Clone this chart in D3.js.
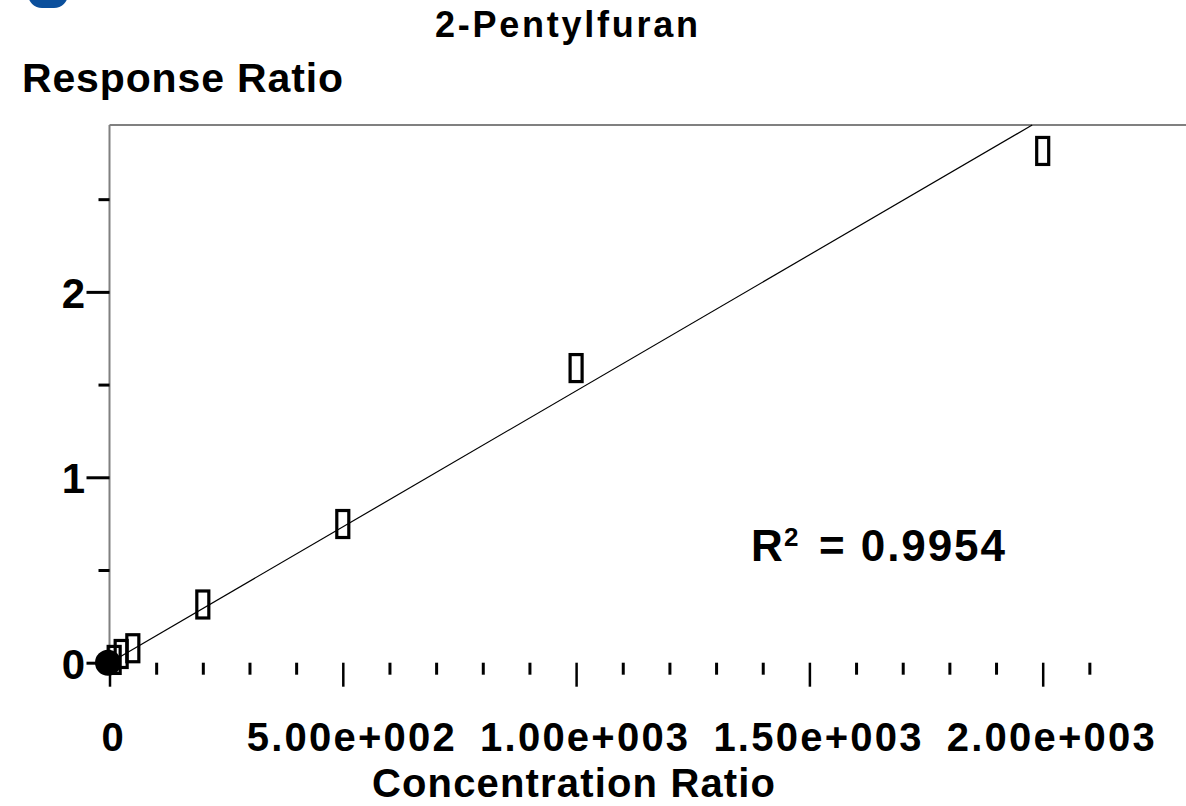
<!DOCTYPE html>
<html>
<head>
<meta charset="utf-8">
<script src="https://cdn.jsdelivr.net/npm/d3@7"></script>
<style>
  body { margin: 0; background: #fff; }
  svg text { font-family: "Liberation Sans", Arial, sans-serif; font-weight: bold; fill: #000; }
</style>
</head>
<body>
<div id="chart"></div>
<script>
// calibration standards: concentration ratio -> response ratio
var concRatio = [10, 25, 50, 200, 500, 1000, 2000];
var respRatio = [0.015, 0.047, 0.078, 0.314, 0.748, 1.589, 2.76];
// the filled origin point
var originConc = [0];
var originResp = [0];
// linear fit shown on the chart
var fitSlope = 0.001467;
var fitIntercept = -0.001;
var rSquared = "0.9954";

var xMajorTicks = [0, 500, 1000, 1500, 2000];
var xTickLabels = ["0", "5.00e+002", "1.00e+003", "1.50e+003", "2.00e+003"];
var xMinorTicks = [100, 200, 300, 400, 600, 700, 800, 900, 1100, 1200, 1300, 1400, 1600, 1700, 1800, 1900, 2100];
var yMajorTicks = [0, 1, 2];
var yTickLabels = ["0", "1", "2"];
var yMinorTicks = [0.5, 1.5, 2.5];

var width = 1186
var height = 806
var yMax = 2.9

var x = d3.scaleLinear().domain([0, 2000]).range([109.5, 1042.7])
var y = d3.scaleLinear().domain([0, yMax]).range([662.7, 125])

var svg = d3.select("#chart")
    .append("svg")
    .attr("width", width)
    .attr("height", height)

// bit of the logo cut off at the top
svg.append("rect")
    .attr("x", 28).attr("y", -32)
    .attr("width", 40).attr("height", 40)
    .attr("rx", 14)
    .attr("fill", "#0b4f9c")

// frame: left axis and top border (gray)
svg.append("line")
    .attr("x1", x(0)).attr("x2", x(0))
    .attr("y1", y(yMax)).attr("y2", y(0))
    .attr("stroke", "#808080").attr("stroke-width", 2)
svg.append("line")
    .attr("x1", x(0)).attr("x2", width)
    .attr("y1", y(yMax)).attr("y2", y(yMax))
    .attr("stroke", "#808080").attr("stroke-width", 2)

function cleanAxis(g, w) {
    g.select(".domain").remove()
    g.attr("font-size", null).attr("font-family", null)
    g.selectAll(".tick line").attr("stroke", "#000").attr("stroke-width", w)
}

// y axis ticks
svg.append("g")
    .attr("transform", "translate(" + x(0) + ",0)")
    .call(d3.axisLeft(y).tickValues(yMinorTicks).tickSize(11).tickFormat(""))
    .call(g => cleanAxis(g, 3))

svg.append("g")
    .attr("transform", "translate(" + x(0) + ",0)")
    .call(d3.axisLeft(y).tickValues(yMajorTicks).tickSize(23).tickPadding(1.5)
        .tickFormat((d, i) => yTickLabels[i]))
    .call(g => cleanAxis(g, 3))
    .call(g => g.selectAll(".tick text")
        .attr("font-size", 42)
        .attr("dy", "0.37em"))

// x axis ticks (no axis line)
svg.append("g")
    .attr("transform", "translate(0," + y(0) + ")")
    .call(d3.axisBottom(x).tickValues(xMinorTicks).tickSize(12).tickFormat(""))
    .call(g => cleanAxis(g, 3))

svg.append("g")
    .attr("transform", "translate(0," + y(0) + ")")
    .call(d3.axisBottom(x).tickValues(xMajorTicks).tickSize(24).tickFormat(""))
    .call(g => cleanAxis(g, 2.5))

// x tick labels
svg.selectAll("text.xlab")
    .data(xMajorTicks)
    .enter()
    .append("text")
    .attr("class", "xlab")
    .attr("x", (d, i) => x(d) + (xTickLabels[i].length > 1 ? 8 : 3))
    .attr("y", 751)
    .attr("font-size", 40)
    .attr("text-anchor", "middle")
    .each(function (d, i) {
        if (xTickLabels[i].length > 1) d3.select(this).attr("textLength", 208).attr("lengthAdjust", "spacing")
    })
    .text((d, i) => xTickLabels[i])

// fitted line, clipped at the top of the plot
var xEnd = (yMax - fitIntercept) / fitSlope
var fitLine = d3.line()
    .x(d => x(d))
    .y(d => y(fitSlope * d + fitIntercept))
svg.append("path")
    .attr("d", fitLine([d3.min(concRatio), xEnd]))
    .attr("fill", "none")
    .attr("stroke", "#000")
    .attr("stroke-width", 1.2)

// origin point
svg.selectAll("circle.origin")
    .data(originConc)
    .enter()
    .append("circle")
    .attr("class", "origin")
    .attr("cx", d => x(d) - 1.5)
    .attr("cy", (d, i) => y(originResp[i]))
    .attr("r", 13)
    .attr("fill", "#000")

// calibration points as open boxes
svg.selectAll("rect.pt")
    .data(concRatio)
    .enter()
    .append("rect")
    .attr("class", "pt")
    .attr("x", d => x(d) - 6)
    .attr("y", (d, i) => y(respRatio[i]) - 13.5)
    .attr("width", 12)
    .attr("height", 27)
    .attr("fill", "none")
    .attr("stroke", "#000")
    .attr("stroke-width", 3.2)

// titles
svg.append("text")
    .attr("x", 435).attr("y", 37)
    .attr("font-size", 36)
    .attr("textLength", 263).attr("lengthAdjust", "spacing")
    .text("2-Pentylfuran")

svg.append("text")
    .attr("x", 22).attr("y", 92)
    .attr("font-size", 41)
    .attr("textLength", 321).attr("lengthAdjust", "spacing")
    .text("Response Ratio")

svg.append("text")
    .attr("x", 372).attr("y", 797)
    .attr("font-size", 40)
    .attr("textLength", 403).attr("lengthAdjust", "spacing")
    .text("Concentration Ratio")

// R squared label
var r2 = svg.append("text").attr("y", 561).attr("font-size", 44)
r2.append("tspan").attr("x", 751).text("R")
r2.append("tspan").attr("x", 784).attr("dy", -15).attr("font-size", 26).text("2")
r2.append("tspan").attr("x", 819).attr("dy", 15)
    .attr("textLength", 186).attr("lengthAdjust", "spacing")
    .text("= " + rSquared)
</script>
</body>
</html>
